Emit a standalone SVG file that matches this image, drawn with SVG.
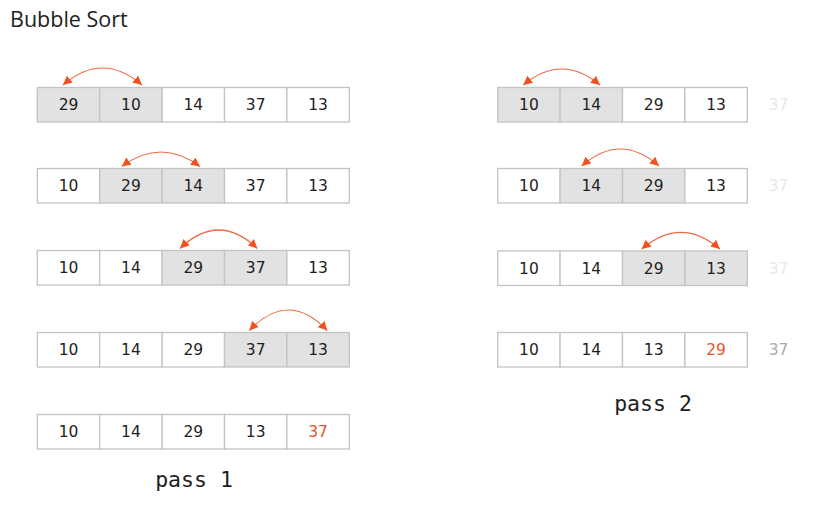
<svg xmlns="http://www.w3.org/2000/svg" width="824" height="513" viewBox="0 0 824 513">
<defs>
<marker id="ah" viewBox="0 0 10 10" refX="10" refY="5" markerWidth="9" markerHeight="9" markerUnits="userSpaceOnUse" orient="auto-start-reverse">
<path d="M0,0 L10,5 L0,10 z" fill="#f0511f"/>
</marker>
<style>
.c{fill:#ffffff;stroke:#c3c3c3;stroke-width:1.3}
.h{fill:#e2e2e2;stroke:#c3c3c3;stroke-width:1.3}
.n{font-family:"DejaVu Sans","Liberation Sans",sans-serif;font-size:15.5px;fill:#1e1e1e;text-anchor:middle}
.r{fill:#e2572b}
.f{fill:#e8e8e8}
.g{fill:#aaaaaa}
.p{font-family:"DejaVu Sans Mono","Liberation Mono",monospace;font-size:21.5px;fill:#1e1e1e;text-anchor:middle}
.a{fill:none;stroke:#ee6a43;stroke-width:1.2;marker-start:url(#ah);marker-end:url(#ah)}
</style>
</defs>
<rect width="824" height="513" fill="#ffffff"/>
<text x="10" y="27" font-family="'Open Sans','Noto Sans',sans-serif" font-size="21.5" fill="#222222">Bubble Sort</text>

<g id="pass1-row1">
<rect class="h" x="37.3" y="87.5" width="62.4" height="34.5"/><rect class="h" x="99.7" y="87.5" width="62.4" height="34.5"/><rect class="c" x="162.1" y="87.5" width="62.4" height="34.5"/><rect class="c" x="224.5" y="87.5" width="62.4" height="34.5"/><rect class="c" x="286.9" y="87.5" width="62.4" height="34.5"/>
<text class="n" x="68.5" y="110">29</text><text class="n" x="130.9" y="110">10</text><text class="n" x="193.3" y="110">14</text><text class="n" x="255.7" y="110">37</text><text class="n" x="318.1" y="110">13</text>
</g>
<g id="pass1-row2">
<rect class="c" x="37.3" y="168.5" width="62.4" height="34.5"/><rect class="h" x="99.7" y="168.5" width="62.4" height="34.5"/><rect class="h" x="162.1" y="168.5" width="62.4" height="34.5"/><rect class="c" x="224.5" y="168.5" width="62.4" height="34.5"/><rect class="c" x="286.9" y="168.5" width="62.4" height="34.5"/>
<text class="n" x="68.5" y="191">10</text><text class="n" x="130.9" y="191">29</text><text class="n" x="193.3" y="191">14</text><text class="n" x="255.7" y="191">37</text><text class="n" x="318.1" y="191">13</text>
</g>
<g id="pass1-row3">
<rect class="c" x="37.3" y="250.5" width="62.4" height="34.5"/><rect class="c" x="99.7" y="250.5" width="62.4" height="34.5"/><rect class="h" x="162.1" y="250.5" width="62.4" height="34.5"/><rect class="h" x="224.5" y="250.5" width="62.4" height="34.5"/><rect class="c" x="286.9" y="250.5" width="62.4" height="34.5"/>
<text class="n" x="68.5" y="273">10</text><text class="n" x="130.9" y="273">14</text><text class="n" x="193.3" y="273">29</text><text class="n" x="255.7" y="273">37</text><text class="n" x="318.1" y="273">13</text>
</g>
<g id="pass1-row4">
<rect class="c" x="37.3" y="332.5" width="62.4" height="34.5"/><rect class="c" x="99.7" y="332.5" width="62.4" height="34.5"/><rect class="c" x="162.1" y="332.5" width="62.4" height="34.5"/><rect class="h" x="224.5" y="332.5" width="62.4" height="34.5"/><rect class="h" x="286.9" y="332.5" width="62.4" height="34.5"/>
<text class="n" x="68.5" y="355">10</text><text class="n" x="130.9" y="355">14</text><text class="n" x="193.3" y="355">29</text><text class="n" x="255.7" y="355">37</text><text class="n" x="318.1" y="355">13</text>
</g>
<g id="pass1-row5">
<rect class="c" x="37.3" y="414.5" width="62.4" height="34.5"/><rect class="c" x="99.7" y="414.5" width="62.4" height="34.5"/><rect class="c" x="162.1" y="414.5" width="62.4" height="34.5"/><rect class="c" x="224.5" y="414.5" width="62.4" height="34.5"/><rect class="c" x="286.9" y="414.5" width="62.4" height="34.5"/>
<text class="n" x="68.5" y="437">10</text><text class="n" x="130.9" y="437">14</text><text class="n" x="193.3" y="437">29</text><text class="n" x="255.7" y="437">13</text><text class="n r" x="318.1" y="437">37</text>
</g>
<g id="pass1-label"><text class="p" x="194" y="487">pass 1</text></g>

<g id="pass2-row1">
<rect class="h" x="497.7" y="87.5" width="62.4" height="34.5"/><rect class="h" x="560.1" y="87.5" width="62.4" height="34.5"/><rect class="c" x="622.5" y="87.5" width="62.4" height="34.5"/><rect class="c" x="684.9" y="87.5" width="62.4" height="34.5"/>
<text class="n" x="528.9" y="110">10</text><text class="n" x="591.3" y="110">14</text><text class="n" x="653.7" y="110">29</text><text class="n" x="716.1" y="110">13</text><text class="n f" x="778.5" y="110">37</text>
</g>
<g id="pass2-row2">
<rect class="c" x="497.7" y="168.5" width="62.4" height="34.5"/><rect class="h" x="560.1" y="168.5" width="62.4" height="34.5"/><rect class="h" x="622.5" y="168.5" width="62.4" height="34.5"/><rect class="c" x="684.9" y="168.5" width="62.4" height="34.5"/>
<text class="n" x="528.9" y="191">10</text><text class="n" x="591.3" y="191">14</text><text class="n" x="653.7" y="191">29</text><text class="n" x="716.1" y="191">13</text><text class="n f" x="778.5" y="191">37</text>
</g>
<g id="pass2-row3">
<rect class="c" x="497.7" y="251" width="62.4" height="34.5"/><rect class="c" x="560.1" y="251" width="62.4" height="34.5"/><rect class="h" x="622.5" y="251" width="62.4" height="34.5"/><rect class="h" x="684.9" y="251" width="62.4" height="34.5"/>
<text class="n" x="528.9" y="273.5">10</text><text class="n" x="591.3" y="273.5">14</text><text class="n" x="653.7" y="273.5">29</text><text class="n" x="716.1" y="273.5">13</text><text class="n f" x="778.5" y="273.5">37</text>
</g>
<g id="pass2-row4">
<rect class="c" x="497.7" y="332.5" width="62.4" height="34.5"/><rect class="c" x="560.1" y="332.5" width="62.4" height="34.5"/><rect class="c" x="622.5" y="332.5" width="62.4" height="34.5"/><rect class="c" x="684.9" y="332.5" width="62.4" height="34.5"/>
<text class="n" x="528.9" y="355">10</text><text class="n" x="591.3" y="355">14</text><text class="n" x="653.7" y="355">13</text><text class="n r" x="716.1" y="355">29</text><text class="n g" x="778.5" y="355">37</text>
</g>
<g id="pass2-label"><text class="p" x="653" y="411">pass 2</text></g>

<g id="connectors">
<path class="a" d="M63,85 Q102.5,51 142,85"/>
<path class="a" d="M121.7,166.5 Q160.8,137.5 200,166.5"/>
<path class="a" d="M180,248.5 Q218.7,211.5 257.3,248.5"/>
<path class="a" d="M249.3,330.5 Q288.3,289.5 327.3,330.5"/>
<path class="a" d="M523.3,85 Q561.7,53 600,85"/>
<path class="a" d="M581.7,166 Q620.4,132 659,166"/>
<path class="a" d="M641.7,249 Q680.9,215.6 720,249"/>
</g>
</svg>
